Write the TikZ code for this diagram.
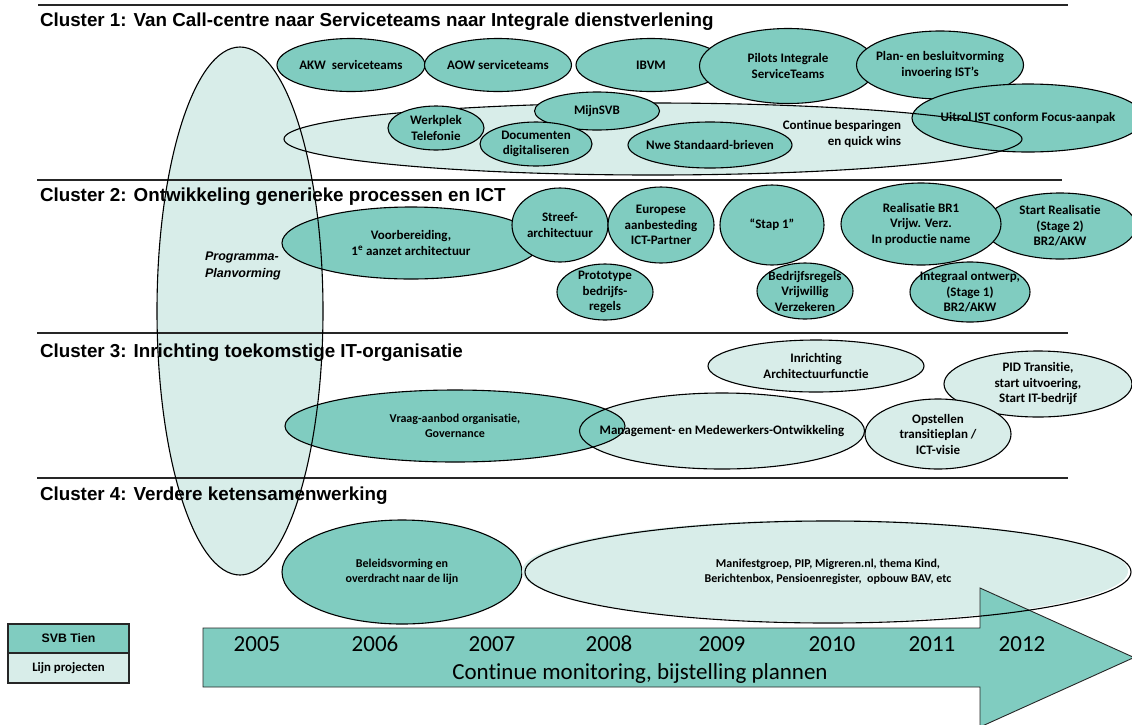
\documentclass[tikz,border=0pt]{standalone}
\usepackage{fontspec}
\setmainfont[Ligatures=NoCommon]{Carlito}
\newfontfamily\arialfont{Liberation Sans}
\usetikzlibrary{shapes.geometric}
\definecolor{c80ccc0}{RGB}{128,204,192}
\definecolor{cd8ede9}{RGB}{216,237,233}
\definecolor{c262626}{RGB}{38,38,38}

\begin{document}
\begin{tikzpicture}[y=1pt, x=1pt, yscale=-1, inner sep=0pt, outer sep=0pt,
  svb/.style={ellipse, draw=black, line width=1.1pt, fill=c80ccc0, align=center,
    inner xsep=-8pt, inner ysep=-4pt, font=\bfseries\fontsize{13}{15.5}\selectfont},
  lijn/.style={svb, fill=cd8ede9},
  cluster/.style={anchor=west, font=\arialfont\bfseries\fontsize{18.8}{21}\selectfont},
  jaar/.style={font=\fontsize{23}{27}\selectfont}]
\useasboundingbox (0,0) rectangle (1132,724);

% programma-planvorming, outline comes last
\path[fill=cd8ede9] (240,311) ellipse (83 and 264);
\node[font=\arialfont\bfseries\itshape\fontsize{12.5}{17}\selectfont, align=left]
  (plan) at (243,266) {Programma-\\Planvorming};

% lines
\path[draw=c262626, line width=1.8pt] (38,5) -- (1068,5);
\path[draw=c262626, line width=1.8pt] (37,180) -- (1062,180);
\path[draw=c262626, line width=1.8pt] (37,333) -- (1068,333);
\path[draw=c262626, line width=1.8pt] (37,478) -- (1068,478);

\node[cluster] (kop1) at (40,22)
  {Cluster 1: Van Call-centre naar Serviceteams naar Integrale dienstverlening};
\node[cluster] (kop2) at (40,197) {Cluster 2: Ontwikkeling generieke processen en ICT};
\node[cluster] (kop3) at (40,353) {Cluster 3: Inrichting toekomstige IT-organisatie};
\node[cluster] (kop4) at (40,496) {Cluster 4: Verdere ketensamenwerking};

% cluster 1
\node[svb, minimum width=148, minimum height=53] (akw) at (351,65) {AKW\ \ serviceteams};
\node[svb, minimum width=147, minimum height=53] (aow) at (498,65) {AOW serviceteams};
\node[svb, minimum width=150, minimum height=53] (ibvm) at (651,65) {IBVM};
\node[svb, minimum width=177, minimum height=75] (pilots) at (788,66)
  {Pilots Integrale\\ServiceTeams};
\node[svb, minimum width=167, minimum height=68, inner xsep=-12pt] (besluit) at (940,65)
  {Plan- en besluitvorming\\invoering IST’s};

\path[fill=cd8ede9] (653,139) ellipse (369 and 36);
\node[svb, minimum width=232, minimum height=68] (uitrol) at (1028,118)
  {Uitrol IST conform Focus-aanpak};
\path[draw=black, line width=1.1pt] (653,139) ellipse (369 and 36);
\node[font=\bfseries\fontsize{13}{16}\selectfont, align=right] (besparing) at (842,134)
  {Continue besparingen\\en quick wins};
\node[svb, minimum width=96, minimum height=44] (werkplek) at (436,128)
  {Werkplek\\Telefonie};
\node[svb, minimum width=125, minimum height=38] (mijnsvb) at (597,111) {MijnSVB};
\node[svb, minimum width=112, minimum height=44] (documenten) at (536,144)
  {Documenten\\digitaliseren};
\node[svb, minimum width=164, minimum height=46] (brieven) at (710,145)
  {Nwe Standaard-brieven};

% cluster 2
\node[svb, minimum width=258, minimum height=72] (voorbereiding) at (411,243)
  {Voorbereiding,\\1\textsuperscript{e} aanzet architectuur};
\node[svb, minimum width=96, minimum height=74] (streef) at (560,225)
  {Streef-\\architectuur};
\node[svb, minimum width=106, minimum height=76] (europa) at (661,225)
  {Europese\\aanbesteding\\ICT-Partner};
\node[svb, minimum width=104, minimum height=80] (stap) at (772,225) {“Stap 1”};
\node[svb, minimum width=152, minimum height=66] (stage2) at (1060,226)
  {Start Realisatie\\(Stage 2)\\BR2/AKW};
\node[svb, minimum width=160, minimum height=82] (br1) at (921,224)
  {Realisatie BR1\\Vrijw. Verz.\\In productie name};
\node[svb, minimum width=96, minimum height=56] (prototype) at (605,292)
  {Prototype\\bedrijfs-\\regels};
\node[svb, minimum width=96, minimum height=56, inner xsep=-12pt] (regels) at (805,291)
  {Bedrijfsregels\\Vrijwillig\\Verzekeren};
\node[svb, minimum width=120, minimum height=60, inner xsep=-12pt] (integraal) at (970,292)
  {Integraal ontwerp,\\(Stage 1)\\BR2/AKW};

% cluster 3
\node[lijn, minimum width=216, minimum height=52] (architectuur) at (816,366)
  {Inrichting\\Architectuurfunctie};
\node[lijn, minimum width=188, minimum height=66] (pid) at (1038,384)
  {PID Transitie,\\start uitvoering,\\Start IT-bedrijf};
\path[fill=cd8ede9] (722,431) ellipse (142.5 and 38);
\node[svb, minimum width=340, minimum height=72, font=\bfseries\fontsize{12}{15}\selectfont]
  (vraag) at (455,426) {Vraag-aanbod organisatie,\\Governance};
\node[svb, fill=none, minimum width=285, minimum height=76, inner xsep=-30pt]
  (management) at (722,431) {Management- en Medewerkers-Ontwikkeling};
\node[lijn, minimum width=146, minimum height=70] (transitie) at (938,434)
  {Opstellen\\transitieplan /\\ICT-visie};

% cluster 4
\node[svb, minimum width=240, minimum height=104, font=\bfseries\fontsize{12}{15}\selectfont]
  (beleid) at (402,572) {Beleidsvorming en\\overdracht naar de lijn};
\path[fill=cd8ede9] (825,571) ellipse (303 and 51);

% tijdlijn
\path[draw=c262626, line width=0.9pt, fill=c80ccc0] (203,628) -- (980,628) --
  (980,588) -- (1134,657.5) -- (980,727) -- (980,687) -- (203,687) -- cycle;
\node[svb, fill=none, minimum width=606, minimum height=102,
  font=\bfseries\fontsize{12}{15}\selectfont] (manifest) at (828,572)
  {Manifestgroep, PIP, Migreren.nl, thema Kind,\\Berichtenbox, Pensioenregister,\ \ opbouw BAV, etc};
\node[jaar] (j2005) at (257,644) {2005};
\node[jaar] (j2006) at (375,644) {2006};
\node[jaar] (j2007) at (492,644) {2007};
\node[jaar] (j2008) at (609,644) {2008};
\node[jaar] (j2009) at (722,644) {2009};
\node[jaar] (j2010) at (832,644) {2010};
\node[jaar] (j2011) at (932,644) {2011};
\node[jaar] (j2012) at (1022,644) {2012};
\node[jaar] (monitoring) at (640,673) {Continue monitoring, bijstelling plannen};

% legenda
\node[draw=c262626, line width=1.2pt, fill=c80ccc0, minimum width=121, minimum height=29,
  font=\arialfont\bfseries\fontsize{12.3}{14}\selectfont] (legsvb) at (68.5,638.5) {SVB Tien};
\node[draw=c262626, line width=1.2pt, fill=cd8ede9, minimum width=121, minimum height=30,
  font=\bfseries\fontsize{12.8}{14}\selectfont] (leglijn) at (68.5,668) {Lijn projecten};

\path[draw=black, line width=1.1pt] (240,311) ellipse (83 and 264);
\end{tikzpicture}
\end{document}
